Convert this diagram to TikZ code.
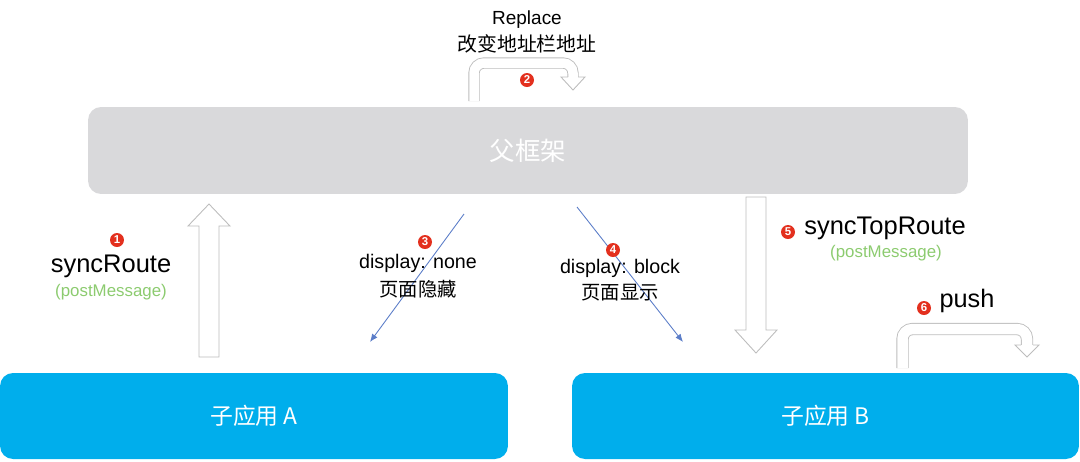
\documentclass[tikz,border=0pt]{standalone}
\usepackage{fontspec}
\setmainfont{Liberation Sans}
\newfontfamily\cjk{Noto Sans CJK SC}
\usetikzlibrary{arrows.meta}

\definecolor{frameGray}{HTML}{D9D9DB}
\definecolor{appBlue}{HTML}{00AEEC}
\definecolor{msgGreen}{HTML}{8CCB6F}
\definecolor{badgeRed}{HTML}{E3301E}
\definecolor{lineBlue}{HTML}{5B7DC8}
\definecolor{arrowGray}{HTML}{BDBDBD}

\newcommand{\fs}[1]{\fontsize{#1}{#1}\selectfont}

\tikzset{
    badge/.style={circle, fill=badgeRed, text=white, inner sep=0pt, minimum size=0.28cm, font=\fs{6.5}\bfseries},
    hollow/.style={draw=arrowGray, fill=white, line width=0.5pt},
    bent/.style={draw=arrowGray, line width=0.5pt, double=white, rounded corners=0.2cm},
}

\begin{document}
\begin{tikzpicture}[x=0.02cm, y=-0.02cm]
    \useasboundingbox (0,0) rectangle (1080,461);

    \begin{scope}[every node/.style={rectangle, rounded corners=0.26cm, inner sep=0pt, text=white}]
        \node[fill=frameGray, minimum width=17.6cm, minimum height=1.74cm, font=\cjk\fs{14.5}] (frame) at (528,150.5) {父框架};
        \node[fill=appBlue, minimum width=10.16cm, minimum height=1.72cm, font=\cjk\fs{13}] (appA) at (254,416) {子应用 A};
        \node[fill=appBlue, minimum width=10.14cm, minimum height=1.72cm, font=\cjk\fs{13}] (appB) at (825.5,416) {子应用 B};
    \end{scope}

    % block arrows
    \coordinate (upfoot) at (199,357);
    \coordinate (downtop) at (746,197);
    \draw[hollow] (upfoot) -- ++(0,-131) -- ++(-11,0) -- ++(21,-22) -- ++(21,22) -- ++(-11,0) -- ++(0,131) -- cycle;
    \draw[hollow] (downtop) -- ++(0,133) -- ++(-11,0) -- ++(21,23) -- ++(21,-23) -- ++(-11,0) -- ++(0,-133) -- cycle;

    % bent arrows
    \coordinate (rfoot) at (474,101);
    \coordinate (pfoot) at (902.5,368);
    \draw[bent, double distance=0.19cm] (rfoot) -- (474,63) -- (573,63) -- (573,77);
    \draw[hollow] (568,77) -- (561,77) -- (573,90) -- (585,77) -- (578,77);
    \draw[bent, double distance=0.21cm] (pfoot) -- (902.5,329) -- (1027,329) -- (1027,345);
    \draw[hollow] (1021,345) -- (1015,345) -- (1027,357) -- (1039,345) -- (1033,345);

    % thin arrows
    \coordinate (n3a) at (464,214);
    \coordinate (n3b) at (370,342);
    \coordinate (n4a) at (577,207);
    \coordinate (n4b) at (683,342);
    \begin{scope}[every edge/.style={draw, lineBlue, line width=0.5pt, -{Latex[length=1.6mm,width=1.3mm]}}]
        \path (n3a) edge (n3b);
        \path (n4a) edge (n4b);
    \end{scope}

    % labels
    \begin{scope}[every node/.style={inner sep=0pt}]
        \node[font=\fs{10.8}] (replace) at (527,20) {Replace};
        \node[font=\cjk\fs{11.3}] (replacecn) at (527,44) {改变地址栏地址};
        \node[font=\fs{14.5}] (sync) at (111,266) {syncRoute};
        \node[font=\fs{9.6}, text=msgGreen] (syncmsg) at (111,292) {(postMessage)};
        \node[font=\fs{11.2}] (none) at (418,263) {display: none};
        \node[font=\cjk\fs{11}] (nonecn) at (418,289) {页面隐藏};
        \node[font=\fs{11.2}] (block) at (620,268) {display: block};
        \node[font=\cjk\fs{11}] (blockcn) at (620,293) {页面显示};
        \node[font=\fs{14.5}] (synctop) at (885,228) {syncTopRoute};
        \node[font=\fs{9.6}, text=msgGreen] (synctopmsg) at (886,253) {(postMessage)};
        \node[font=\fs{14.4}] (push) at (967,301) {push};
    \end{scope}

    \node[badge] (b1) at (117,240) {1};
    \node[badge] (b2) at (527,80) {2};
    \node[badge] (b3) at (425,242) {3};
    \node[badge] (b4) at (613,250) {4};
    \node[badge] (b5) at (788,232) {5};
    \node[badge] (b6) at (924,308) {6};
\end{tikzpicture}
\end{document}
